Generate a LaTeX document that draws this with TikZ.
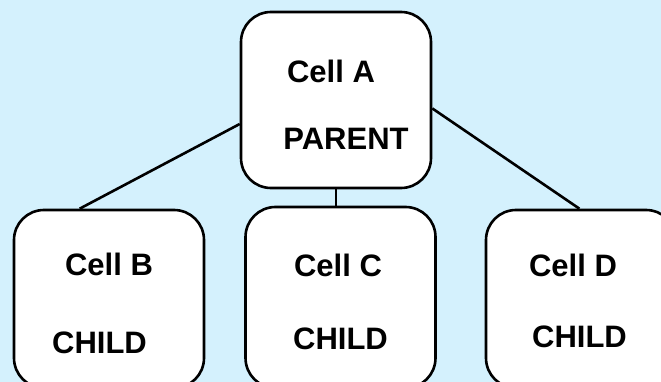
\documentclass[tikz,border=0pt]{standalone}
\usepackage{fontspec}
\setmainfont{Liberation Sans}
\definecolor{fond}{RGB}{212,241,253}
\begin{document}
\begin{tikzpicture}[x=1pt,y=-1pt,
  cell/.style={draw,line width=2.6pt,fill=white,rounded corners=30pt,
    minimum width=190pt,inner sep=0pt},
  lbl/.style={anchor=base,inner sep=0pt,font=\fontsize{31}{31}\selectfont\bfseries}]
\pgfmathsetmacro{\larg}{661}
\pgfmathsetmacro{\haut}{382}
  \fill[fond] (0,0) rectangle (\larg,\haut);
  \useasboundingbox (0,0) rectangle (\larg,\haut);
  \clip (0,0) rectangle (\larg,\haut);
  % the four cells
  \node[cell,minimum height=176pt] (A) at (336,100) {};
  \node[cell,minimum height=178pt] (B) at (109,299) {};
  \node[cell,minimum height=181pt] (C) at (340.5,297.5) {};
  \node[cell,minimum height=178pt] (D) at (581,299) {};
  % links parent -- children
  \draw[line width=2.6pt] (A.194) -- (B.108);
  \draw[line width=2.6pt] (A.-5) -- (D.91);
  \draw[line width=2pt] (A.south) -- (A.south |- C.north);
  % texts
  \node[lbl] (a1) at (331,83) {Cell A};
  \node[lbl] (a2) at (346,150) {PARENT};
  \node[lbl] (b1) at (109,275) {Cell B};
  \node[lbl] (b2) at (99.5,353) {CHILD};
  \node[lbl] (c1) at (338,276) {Cell C};
  \node[lbl] (c2) at (340.5,349) {CHILD};
  \node[lbl] (d1) at (573,276) {Cell D};
  \node[lbl] (d2) at (579.5,347) {CHILD};
\end{tikzpicture}
\end{document}
